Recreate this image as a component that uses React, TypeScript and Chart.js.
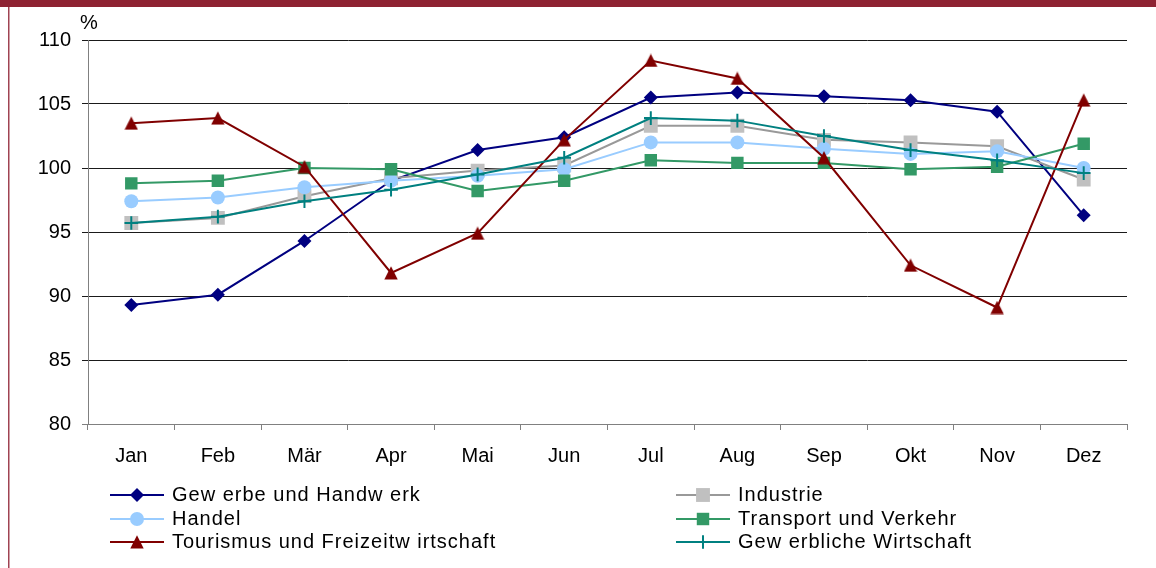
import React, { useEffect, useRef } from 'react';
import { Chart, registerables } from 'chart.js';
import { drawPoint } from 'chart.js/helpers';

Chart.register(...registerables);

const W = 1156;
const H = 568;
const FONT = "'Liberation Sans', Arial, Helvetica, sans-serif";

const months = ['Jan', 'Feb', 'Mär', 'Apr', 'Mai', 'Jun', 'Jul', 'Aug', 'Sep', 'Okt', 'Nov', 'Dez'];

const gewerbeHandwerk = [89.3, 90.1, 94.3, 99.0, 101.4, 102.4, 105.5, 105.9, 105.6, 105.3, 104.4, 96.3];
const industrie = [95.7, 96.1, 97.8, 99.2, 99.8, 100.2, 103.3, 103.3, 102.2, 102.0, 101.7, 99.1];
const handel = [97.4, 97.7, 98.5, 99.0, 99.4, 99.9, 102.0, 102.0, 101.5, 101.1, 101.3, 100.0];
const transportVerkehr = [98.8, 99.0, 100.0, 99.9, 98.2, 99.0, 100.6, 100.4, 100.4, 99.9, 100.1, 101.9];
const tourismusFreizeit = [103.5, 103.9, 100.1, 91.8, 94.9, 102.2, 108.4, 107.0, 100.8, 92.4, 89.1, 105.3];
const gewerblicheWirtschaft = [95.7, 96.2, 97.4, 98.3, 99.5, 100.8, 103.9, 103.7, 102.5, 101.4, 100.6, 99.6];

const seriesNames = [
  'Gew erbe und Handw erk',
  'Industrie',
  'Handel',
  'Transport und Verkehr',
  'Tourismus und Freizeitw irtschaft',
  'Gew erbliche Wirtschaft',
];

const yTicks = [80, 85, 90, 95, 100, 105, 110];

function makeTriangle(color: string, size: number): HTMLCanvasElement {
  const c = document.createElement('canvas');
  c.width = size;
  c.height = size;
  const g = c.getContext('2d')!;
  g.fillStyle = color;
  g.beginPath();
  g.moveTo(size / 2, 0.3);
  g.lineTo(size - 0.3, size - 0.5);
  g.lineTo(0.3, size - 0.5);
  g.closePath();
  g.fill();
  return c;
}

const styles: any[] = [
  { line: '#000080', fill: '#000080', pointStyle: 'rectRot', radius: 7 },
  { line: '#999999', fill: '#C0C0C0', pointStyle: 'rect', radius: 9.8 },
  { line: '#99CCFF', fill: '#99CCFF', pointStyle: 'circle', radius: 7 },
  { line: '#339966', fill: '#339966', pointStyle: 'rect', radius: 8.8 },
  { line: '#800000', fill: '#800000', pointStyle: 'triangleImg', radius: 7 },
  { line: '#008080', fill: '#008080', pointStyle: 'cross', radius: 6.8 },
];

const frameLegendPlugin = {
  id: 'frameLegend',
  beforeDraw(chart: any) {
    const ctx = chart.ctx;
    ctx.save();
    ctx.fillStyle = '#ffffff';
    ctx.fillRect(0, 0, W, H);
    ctx.fillStyle = '#8E2232';
    ctx.fillRect(0, 0, W, 7);
    ctx.fillStyle = '#A04352';
    ctx.fillRect(8, 7, 1.5, H - 7);
    ctx.restore();
  },
  afterDraw(chart: any) {
    const ctx = chart.ctx;
    ctx.save();
    ctx.font = `20px ${FONT}`;
    ctx.fillStyle = '#000';
    ctx.textAlign = 'center';
    ctx.textBaseline = 'middle';
    ctx.fillText('%', 89, 23);

    const cols = [
      { x: 110, items: [0, 2, 4] },
      { x: 676, items: [1, 3, 5] },
    ];
    const rows = [495, 519, 542];
    ctx.textAlign = 'left';
    cols.forEach((col) => {
      col.items.forEach((di, r) => {
        const ds = chart.data.datasets[di];
        const y = rows[r];
        ctx.strokeStyle = ds.borderColor;
        ctx.lineWidth = 2;
        ctx.beginPath();
        ctx.moveTo(col.x, y);
        ctx.lineTo(col.x + 54, y);
        ctx.stroke();
        ctx.fillStyle = ds.pointBackgroundColor;
        ctx.strokeStyle = ds.pointBorderColor;
        ctx.lineWidth = ds.pointBorderWidth;
        drawPoint(ctx, {
          pointStyle: ds.pointStyle,
          radius: ds.pointRadius,
          rotation: 0,
          borderWidth: ds.pointBorderWidth,
        } as any, col.x + 27, y);
        ctx.fillStyle = '#000';
        try { (ctx as any).letterSpacing = '1px'; } catch (e) {}
        ctx.fillText(ds.label, col.x + 62, y);
        try { (ctx as any).letterSpacing = '0px'; } catch (e) {}
      });
    });
    ctx.restore();
  },
};

export default function App() {
  const ref = useRef<HTMLCanvasElement | null>(null);

  useEffect(() => {
    document.body.style.margin = '0';
    const canvas = ref.current;
    if (!canvas) return;
    const values = [gewerbeHandwerk, industrie, handel, transportVerkehr, tourismusFreizeit, gewerblicheWirtschaft];
    const n = values.length;
    const datasets = values.map((data, i) => {
      const s = styles[i];
      const isCross = s.pointStyle === 'cross';
      const ps = s.pointStyle === 'triangleImg' ? makeTriangle(s.fill, 14) : s.pointStyle;
      return {
        label: seriesNames[i],
        data,
        borderColor: s.line,
        backgroundColor: s.fill,
        borderWidth: 2,
        tension: 0,
        pointStyle: ps,
        pointRadius: s.radius,
        pointHoverRadius: s.radius,
        pointBackgroundColor: s.fill,
        pointBorderColor: s.fill,
        pointBorderWidth: isCross ? 2 : 0,
        order: n - 1 - i,
      };
    });

    const chart = new Chart(canvas, {
      type: 'line',
      data: { labels: months, datasets },
      options: {
        animation: false,
        responsive: false,
        devicePixelRatio: 1,
        layout: { padding: { top: 40, right: 29, left: 0, bottom: 0 } },
        plugins: {
          legend: { display: false },
          tooltip: { enabled: false },
        },
        scales: {
          x: {
            offset: true,
            grid: {
              offset: true,
              drawOnChartArea: false,
              drawTicks: true,
              tickLength: 6,
              color: '#808080',
            },
            border: { display: true, color: '#808080', width: 1 },
            ticks: {
              font: { family: FONT, size: 20 },
              color: '#000',
              padding: 14,
              maxRotation: 0,
              autoSkip: false,
            },
            afterFit(scale: any) {
              scale.height = H - 424;
            },
          },
          y: {
            min: yTicks[0],
            max: yTicks[yTicks.length - 1],
            afterBuildTicks(scale: any) {
              scale.ticks = yTicks.map((v) => ({ value: v }));
            },
            ticks: {
              font: { family: FONT, size: 20 },
              color: '#000',
              padding: 11,
            },
            grid: {
              color: (c: any) => (c.tick && c.tick.value === 80 ? '#808080' : '#1a1a1a'),
              tickLength: 6,
              drawTicks: true,
            },
            border: { display: true, color: '#808080', width: 1 },
            afterFit(scale: any) {
              scale.width = 88;
            },
          },
        },
      } as any,
      plugins: [frameLegendPlugin],
    });
    return () => chart.destroy();
  }, []);

  return (
    <div style={{ width: W, height: H, position: 'relative' }}>
      <canvas ref={ref} width={W} height={H} style={{ display: 'block', width: W, height: H }} />
    </div>
  );
}
